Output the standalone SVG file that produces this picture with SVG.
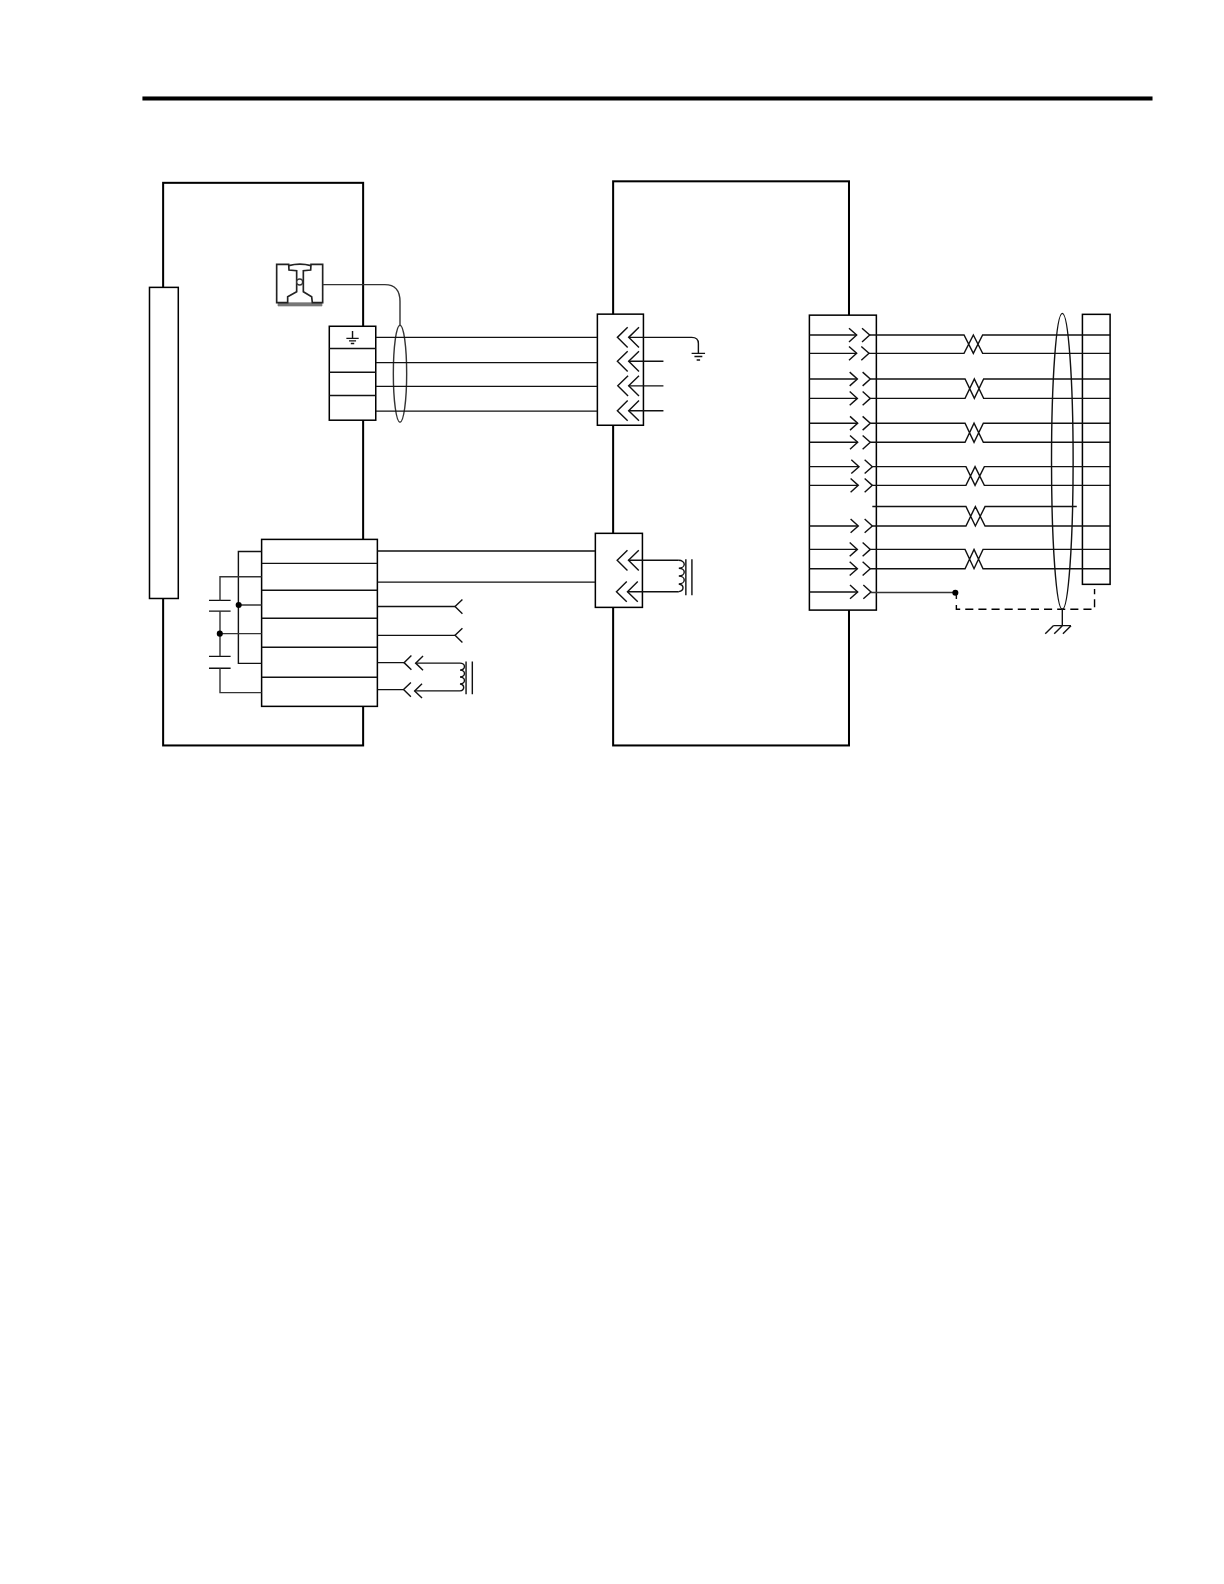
<svg xmlns="http://www.w3.org/2000/svg" xmlns:xlink="http://www.w3.org/1999/xlink" width="1224" height="1584" viewBox="0 0 1224 1584">
<style>
.box{fill:#fff;stroke:#000;stroke-width:2}
.blk{fill:#fff;stroke:#000;stroke-width:1.5}
.w{fill:none;stroke:#111;stroke-width:1.4}
.g{fill:none;stroke:#333;stroke-width:1.4}
.d{fill:none;stroke:#000;stroke-width:1.4;stroke-dasharray:8 5}
.dot{fill:#000}
</style>
<defs>
<path id="cl" class="w" d="M10.2,-10 L0,0 L10.2,10"/>
<path id="cr" class="w" d="M-7.6,-6.8 L0,0 L-7.6,6.8"/>
<path id="fork" class="w" d="M7.3,-7 L0,0 L7.3,7"/>
</defs>
<rect width="1224" height="1584" fill="#fff"/>
<g id="page" transform="scale(1.0101)">
<rect id="top-rule" x="141" y="95.5" width="1000" height="4" fill="#000"/>

<g id="left-enclosure"><rect class="box" x="161.5" y="181" width="198" height="557"/></g>
<g id="middle-enclosure"><rect class="box" x="607" y="179.5" width="233.5" height="558.5"/></g>

<g id="din-strip"><rect class="blk" x="148" y="284.5" width="28.5" height="308"/></g>

<g id="rail" transform="matrix(.33 0 0 .33 138.6 247.5)">
<path d="M414,158 H546 V168 H414 Z" fill="#777" stroke="#777" stroke-width="2"/>
<path d="M410,43 H446 L447,60 L470,62 V125 L443,140 V158 H410 Z M548,43 H513 L512,60 L490,62 V125 L515,140 L517,158 H548 Z" fill="#fff" stroke="#222" stroke-width="5"/>
<path d="M446,47 Q480,38 513,47" fill="none" stroke="#222" stroke-width="5"/>
<circle cx="479" cy="96" r="9" fill="#fff" stroke="#333" stroke-width="4"/>
</g>

<g id="terminal-power">
<rect class="blk" x="326" y="323" width="46" height="93"/>
<path class="w" d="M326,345 H372 M326,368.6 H372 M326,391.5 H372"/>
<path class="w" d="M349,327.8 V335 M342.9,335 H355.1 M345.5,337.5 H352.5 M347.3,340 H350.7"/>
</g>

<g id="terminal-control">
<rect class="blk" x="259" y="534" width="114.6" height="165.3"/>
<path class="w" d="M259,557.7 H373.6 M259,584.4 H373.6 M259,612 H373.6 M259,640.8 H373.6 M259,670.5 H373.6"/>
</g>

<g id="connector-upper">
<rect class="blk" x="591.4" y="311" width="45.6" height="110"/>
<use xlink:href="#cl" href="#cl" x="611.2" y="334"/><use xlink:href="#cl" href="#cl" x="622.4" y="334"/>
<use xlink:href="#cl" href="#cl" x="611.2" y="357.7"/><use xlink:href="#cl" href="#cl" x="622.4" y="357.7"/>
<use xlink:href="#cl" href="#cl" x="611.6" y="382"/><use xlink:href="#cl" href="#cl" x="622.4" y="382"/>
<use xlink:href="#cl" href="#cl" x="611.2" y="406.6"/><use xlink:href="#cl" href="#cl" x="622.4" y="406.6"/>
</g>

<g id="connector-lower">
<rect class="blk" x="589.4" y="528" width="46.6" height="73.3"/>
<use xlink:href="#cl" href="#cl" x="611" y="554.7"/><use xlink:href="#cl" href="#cl" x="622.2" y="554.7"/>
<use xlink:href="#cl" href="#cl" x="610.3" y="585.8"/><use xlink:href="#cl" href="#cl" x="621.2" y="585.8"/>
</g>

<g id="connector-right">
<rect class="blk" x="801.3" y="312" width="66.3" height="292"/>
<use xlink:href="#cr" href="#cr" x="848.1" y="331.7"/><use xlink:href="#cr" href="#cr" x="861" y="331.7"/>
<use xlink:href="#cr" href="#cr" x="848.1" y="349.8"/><use xlink:href="#cr" href="#cr" x="860.3" y="349.8"/>
<use xlink:href="#cr" href="#cr" x="848.8" y="375.2"/><use xlink:href="#cr" href="#cr" x="861.6" y="375.2"/>
<use xlink:href="#cr" href="#cr" x="848.8" y="394.4"/><use xlink:href="#cr" href="#cr" x="861.6" y="394.4"/>
<use xlink:href="#cr" href="#cr" x="849.1" y="419"/><use xlink:href="#cr" href="#cr" x="861.6" y="419"/>
<use xlink:href="#cr" href="#cr" x="849.1" y="437.9"/><use xlink:href="#cr" href="#cr" x="861.6" y="437.9"/>
<use xlink:href="#cr" href="#cr" x="850.4" y="462"/><use xlink:href="#cr" href="#cr" x="863.6" y="462"/>
<use xlink:href="#cr" href="#cr" x="849.7" y="480.5"/><use xlink:href="#cr" href="#cr" x="863.6" y="480.5"/>
<use xlink:href="#cr" href="#cr" x="849.7" y="520.7"/><use xlink:href="#cr" href="#cr" x="863.6" y="520.7"/>
<use xlink:href="#cr" href="#cr" x="848.8" y="543.9"/><use xlink:href="#cr" href="#cr" x="861.6" y="543.9"/>
<use xlink:href="#cr" href="#cr" x="848.8" y="563"/><use xlink:href="#cr" href="#cr" x="861.6" y="563"/>
<use xlink:href="#cr" href="#cr" x="849.1" y="586"/><use xlink:href="#cr" href="#cr" x="862.3" y="586"/>
</g>

<g id="terminal-strip-right"><rect class="blk" x="1071.6" y="311.2" width="27.4" height="267.3"/></g>

<g id="capacitors">
<path class="w" d="M206.9,594.4 H228.3 M206.9,605 H228.3 M206.9,649.8 H228.3 M206.9,661.6 H228.3"/>
</g>

<g id="coil-upper">
<path class="w" d="M672,554.7 a5.4,3.9 0 0 1 0,7.8 a5.4,3.9 0 0 1 0,7.8 a5.4,3.9 0 0 1 0,7.8 a5.4,3.9 0 0 1 0,7.6"/>
<path class="w" d="M679,553.7 V589.4 M685,553.7 V589.4"/>
</g>
<g id="coil-lower">
<path class="w" d="M455.4,656.5 a4.4,3.45 0 0 1 0,6.9 a4.4,3.45 0 0 1 0,6.9 a4.4,3.45 0 0 1 0,6.9 a4.4,3.45 0 0 1 0,6.8"/>
<path class="w" d="M461.4,655 V687.4 M467.6,655 V687.4"/>
</g>

<g id="ground-upper"><path class="w" d="M684.7,349.8 H698 M687.5,353 H695.3 M689.7,356.4 H693.1"/></g>
<g id="ground-lower"><path class="w" d="M1042.8,619.4 H1060.3 M1042.8,619.4 L1034.8,627.4 M1051.7,619.4 L1043.7,627.4 M1060.3,619.4 L1052.3,627.4"/></g>

<g id="connectors">
<path class="g" d="M319.4,281.8 H381 Q396,281.8 396,298.6 V321.8"/>
<ellipse class="g" cx="396" cy="370" rx="6.6" ry="48"/>
<path class="w" d="M372,334 H591.4 M372,359 H591.4 M372,382.5 H591.4 M372,407 H591.4"/>
<path class="w" d="M373.6,545.5 H589.4 M373.6,576.3 H589.4"/>
<path class="w" d="M622.4,334 H684.7 Q691.4,334 691.4,340 V349.8"/>
<path class="w" d="M622.4,357.7 H656.8 M622.4,382 H656.8 M622.4,406.6 H656.8"/>
<path class="w" d="M622.2,554.7 H672 M621.2,585.8 H672"/>

<path class="w" d="M259,546 H236 V656.7 H259"/>
<path class="g" d="M259,571 H217.8 V594.4 M217.8,605 V649.8 M217.8,661.6 V685.7 H259"/>
<path class="g" d="M236,599 H259 M217.6,627.3 H259"/>
<circle class="dot" cx="236.3" cy="599" r="3"/>
<circle class="dot" cx="217.6" cy="627.3" r="3"/>
<path class="w" d="M373.6,600.5 H450.5 M373.6,629 H450.5"/>
<use xlink:href="#fork" href="#fork" x="450.5" y="600.5"/><use xlink:href="#fork" href="#fork" x="450.5" y="629"/>
<path class="w" d="M373.6,656 H400 M373.6,682.7 H399.5"/>
<use xlink:href="#fork" href="#fork" x="400" y="656"/><use xlink:href="#fork" href="#fork" x="411.5" y="656.5"/>
<use xlink:href="#fork" href="#fork" x="399.5" y="682.7"/><use xlink:href="#fork" href="#fork" x="410.5" y="684"/>
<path class="w" d="M411.5,656.5 H455.4 M410.5,684 H455.4"/>

<path class="w" d="M801.3,331.7 H848 M801.3,349.8 H848 M801.3,375.2 H848.5 M801.3,394.4 H848.5 M801.3,419 H849 M801.3,437.9 H849 M801.3,462 H850 M801.3,480.5 H849.5 M801.3,520.7 H849.5 M801.3,543.9 H848.5 M801.3,563 H848.5 M801.3,586 H849"/>
<path class="w" d="M861,331.7 H954.4 L963.6,349.8 L972.8,331.7 H1099 M860.3,349.8 H954.4 L963.6,331.7 L972.8,349.8 H1099"/>
<path class="w" d="M861.6,375.2 H955.4 L964.6,394.4 L973.8,375.2 H1099 M861.6,394.4 H955.4 L964.6,375.2 L973.8,394.4 H1099"/>
<path class="w" d="M861.6,419 H955.4 L964.3,437.9 L973.5,419 H1099 M861.6,437.9 H955.4 L964.3,419 L973.5,437.9 H1099"/>
<path class="w" d="M863.6,462 H956.3 L965.3,480.5 L974.5,462 H1099 M863.6,480.5 H956.3 L965.3,462 L974.5,480.5 H1099"/>
<path class="w" d="M863.6,501.5 H956.3 L965.6,520.7 L975.2,501.5 H1066 M863.6,520.7 H956.3 L965.6,501.5 L975.2,520.7 H1099"/>
<path class="w" d="M861.6,543.9 H955.4 L964.3,563 L973.2,543.9 H1099 M861.6,563 H955.4 L964.3,543.9 L973.2,563 H1099"/>
<path class="g" d="M862.3,586.5 H945.8"/>
<circle class="dot" cx="945.8" cy="586.8" r="3"/>
<path class="w" d="M946.8,589 V593"/>
<path class="d" d="M946.8,599 V603.2 H1083.6 V583"/>
<ellipse cx="1051.7" cy="456.7" rx="10.7" ry="146.5" fill="none" stroke="#111" stroke-width="1.4"/>
<path class="w" d="M1051.7,603.2 V619.4"/>
</g>
</g>
</svg>
